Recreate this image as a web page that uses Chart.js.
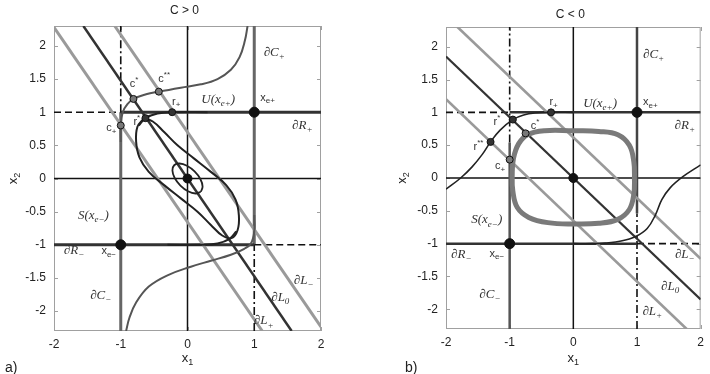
<!DOCTYPE html>
<html>
<head>
<meta charset="utf-8">
<script src="https://cdn.jsdelivr.net/npm/chart.js@4"></script>
<style>
  html, body { margin: 0; padding: 0; background: #fff; }
  #wrap { position: relative; width: 710px; height: 374px; overflow: hidden; }
  #wrap canvas { position: absolute; top: 0; }
</style>
</head>
<body>
<div id="wrap">
  <canvas id="chartA" width="355" height="374" style="left:0"></canvas>
  <canvas id="chartB" width="355" height="374" style="left:355px"></canvas>
</div>
<script>
const xTicks = [-2, -1, 0, 1, 2];
const yTicks = [-2, -1.5, -1, -0.5, 0, 0.5, 1, 1.5, 2];

// coordinate axes and saturation boundaries (same in both panels)
const axisH = [[-2, 0], [2, 0]];
const axisV = [[0, -2.3], [0, 2.3]];
const rPlus = [[-1, 1], [2, 1]];
const rPlusDash = [[-2, 1], [-1, 1]];
const rMinus = [[-2, -1], [1, -1]];
const rMinusDash = [[1, -1], [2, -1]];
const eqPts = [[1, 1], [-1, -1]];
const originPt = [[0, 0]];

// panel a) C > 0
const aCPlus = [[1, -1], [1, 2.3]];
const aCPlusDash = [[1, -2.3], [1, -1]];
const aCMinus = [[-1, -2.3], [-1, 1]];
const aCMinusDash = [[-1, 1], [-1, 2.3]];
const aLPlus = [[-2, 2.28], [1.12, -2.3]];
const aL0 = [[-1.56, 2.3], [1.56, -2.3]];
const aLMinus = [[-1.09, 2.3], [2, -2.24]];
const aCurveUp = [[-1, 0.55], [-1, 0.8], [-0.97, 1.0], [-0.9, 1.12], [-0.81, 1.2], [-0.62, 1.27], [-0.43, 1.31], [-0.1, 1.37], [0.2, 1.42], [0.45, 1.5], [0.65, 1.64], [0.78, 1.83], [0.86, 2.08], [0.9, 2.3]];
const aCurveDown = [[1, -0.55], [1, -0.8], [0.95, -0.98], [0.85, -1.06], [0.65, -1.15], [0.35, -1.24], [0.05, -1.33], [-0.3, -1.46], [-0.58, -1.63], [-0.77, -1.87], [-0.87, -2.1], [-0.92, -2.3]];
const aTailUp = [[0.3, 1.0], [-0.23, 1.0], [-0.45, 0.98], [-0.63, 0.91], [-0.73, 0.8]];
const aTailDown = [[-0.3, -1.0], [0.23, -1.0], [0.45, -0.98], [0.63, -0.91], [0.73, -0.8]];
const aLoop = [[-0.66, 0.9], [-0.75, 0.78], [-0.77, 0.56], [-0.72, 0.32], [-0.58, 0.1], [-0.35, -0.1], [-0.1, -0.3], [0.15, -0.5], [0.35, -0.7], [0.52, -0.86], [0.66, -0.9], [0.75, -0.78], [0.77, -0.56], [0.72, -0.32], [0.58, -0.1], [0.35, 0.1], [0.1, 0.3], [-0.15, 0.5], [-0.35, 0.7], [-0.52, 0.86], [-0.66, 0.9]];
const aInner = [[0.2, -0.2], [0.226, -0.12], [0.192, -0.008], [0.106, 0.106], [-0.008, 0.192], [-0.12, 0.226], [-0.2, 0.2], [-0.226, 0.12], [-0.192, 0.008], [-0.106, -0.106], [0.008, -0.192], [0.12, -0.226], [0.2, -0.2]];
const aGreyPts = [[-1, 0.8], [-0.81, 1.2], [-0.43, 1.31]];
const aDarkPts = [[-0.63, 0.91], [-0.23, 1.0]];

// panel b) C < 0
const bCPlus = [[1, -0.54], [1, 2.3]];
const bCPlusDash = [[1, -2.3], [1, -0.54]];
const bCMinus = [[-1, -2.3], [-1, 0.54]];
const bCMinusDash = [[-1, 0.54], [-1, 2.3]];
const bLPlus = [[-2, 1.2], [1.78, -2.3]];
const bL0 = [[-2, 1.85], [2, -1.85]];
const bLMinus = [[-1.82, 2.3], [2, -1.23]];
const bLoop = [[0, 0.72], [0.4, 0.71], [0.7, 0.66], [0.88, 0.5], [0.95, 0.25], [0.96, 0], [0.95, -0.25], [0.88, -0.48], [0.7, -0.63], [0.4, -0.69], [0, -0.7], [-0.4, -0.68], [-0.7, -0.6], [-0.88, -0.45], [-0.95, -0.2], [-0.96, 0.05], [-0.94, 0.3], [-0.86, 0.52], [-0.72, 0.66], [-0.45, 0.72], [0, 0.72]];
const bCurveLeft = [[-2, -0.17], [-1.77, 0], [-1.59, 0.17], [-1.43, 0.36], [-1.3, 0.55], [-1.15, 0.73], [-0.95, 0.89], [-0.78, 0.96], [-0.6, 0.99], [-0.35, 1.0], [0, 1.0]];
const bCurveRight = [[2, 0.2], [1.72, 0.02], [1.52, -0.15], [1.39, -0.33], [1.29, -0.56], [1.16, -0.77], [0.98, -0.89], [0.75, -0.96], [0.5, -0.99], [0.3, -1.0], [0, -1.0]];
const bGreyPts = [[-0.75, 0.68], [-1, 0.28]];
const bDarkPts = [[-0.35, 1.0], [-0.95, 0.89], [-1.3, 0.55]];

const aLabels = [
  { s: '∂C_+', x: 1.3, y: 1.9, f: 'serif' },
  { s: 'U(x_{e+})', x: 0.46, y: 1.19, f: 'serif' },
  { s: 'x_{e+}', x: 1.2, y: 1.22, f: 'sans' },
  { s: '∂R_+', x: 1.72, y: 0.8, f: 'serif' },
  { s: 'c^*', x: -0.8, y: 1.43, f: 'sans' },
  { s: 'c^{**}', x: -0.35, y: 1.5, f: 'sans' },
  { s: 'r_+', x: -0.17, y: 1.16, f: 'sans' },
  { s: 'r^*', x: -0.76, y: 0.85, f: 'sans' },
  { s: 'c_+', x: -1.14, y: 0.76, f: 'sans' },
  { s: 'S(x_{e−})', x: -1.41, y: -0.56, f: 'serif' },
  { s: '∂R_−', x: -1.7, y: -1.08, f: 'serif' },
  { s: 'x_{e−}', x: -1.18, y: -1.1, f: 'sans' },
  { s: '∂C_−', x: -1.3, y: -1.77, f: 'serif' },
  { s: '∂L_−', x: 1.74, y: -1.54, f: 'serif' },
  { s: '∂L_0', x: 1.39, y: -1.8, f: 'serif' },
  { s: '∂L_+', x: 1.14, y: -2.15, f: 'serif' },
];
const bLabels = [
  { s: '∂C_+', x: 1.26, y: 1.88, f: 'serif' },
  { s: 'U(x_{e+})', x: 0.42, y: 1.14, f: 'serif' },
  { s: 'x_{e+}', x: 1.21, y: 1.16, f: 'sans' },
  { s: '∂R_+', x: 1.75, y: 0.8, f: 'serif' },
  { s: 'r_+', x: -0.31, y: 1.16, f: 'sans' },
  { s: 'r^*', x: -1.2, y: 0.85, f: 'sans' },
  { s: 'c^*', x: -0.6, y: 0.8, f: 'sans' },
  { s: 'r^{**}', x: -1.49, y: 0.48, f: 'sans' },
  { s: 'c_+', x: -1.15, y: 0.18, f: 'sans' },
  { s: 'S(x_{e−})', x: -1.36, y: -0.64, f: 'serif' },
  { s: '∂R_−', x: -1.76, y: -1.17, f: 'serif' },
  { s: 'x_{e−}', x: -1.2, y: -1.15, f: 'sans' },
  { s: '∂C_−', x: -1.31, y: -1.78, f: 'serif' },
  { s: '∂L_−', x: 1.75, y: -1.17, f: 'serif' },
  { s: '∂L_0', x: 1.52, y: -1.65, f: 'serif' },
  { s: '∂L_+', x: 1.24, y: -2.03, f: 'serif' },
];

const FONTS = {
  serif: { style: 'italic', name: "'Liberation Serif', 'DejaVu Serif', serif", size: 13 },
  sans: { style: 'normal', name: "'Liberation Sans', Arial, sans-serif", size: 11 },
};

function line(points, color, width, dash) {
  return {
    data: points.map(([x, y]) => ({ x, y })),
    showLine: true,
    borderColor: color,
    borderWidth: width,
    borderDash: dash || [],
    pointRadius: 0,
    tension: points.length > 2 ? 0.4 : 0,
    fill: false,
  };
}

function dots(points, fill, r) {
  return {
    data: points.map(([x, y]) => ({ x, y })),
    showLine: false,
    pointRadius: r,
    pointBackgroundColor: fill,
    pointBorderColor: '#111',
    pointBorderWidth: 1,
  };
}

// split "∂C_+" / "x_{e+}" / "c^{**}" into normal, sub and super runs
function tokens(s) {
  const out = [];
  for (let i = 0; i < s.length; i++) {
    const c = s[i];
    if (c === '_' || c === '^') {
      let t;
      if (s[i + 1] === '{') {
        const j = s.indexOf('}', i);
        t = s.slice(i + 2, j);
        i = j;
      } else {
        t = s[i + 1];
        i++;
      }
      out.push({ t, k: c });
    } else if (out.length && out[out.length - 1].k === 'n') {
      out[out.length - 1].t += c;
    } else {
      out.push({ t: c, k: 'n' });
    }
  }
  return out;
}

function drawMath(ctx, px, py, s, fam, size) {
  const toks = tokens(s);
  const big = `${fam.style} ${size}px ${fam.name}`;
  const small = `${fam.style} ${Math.round(size * 0.72)}px ${fam.name}`;
  let w = 0;
  toks.forEach((t) => {
    ctx.font = t.k === 'n' ? big : small;
    t.w = ctx.measureText(t.t).width;
    w += t.w;
  });
  let x = px - w / 2;
  ctx.textAlign = 'left';
  ctx.textBaseline = 'middle';
  toks.forEach((t) => {
    ctx.font = t.k === 'n' ? big : small;
    const dy = t.k === '_' ? size * 0.32 : t.k === '^' ? -size * 0.38 : 0;
    ctx.fillText(t.t, x, py + dy);
    x += t.w;
  });
}

const decor = {
  id: 'decor',
  beforeDatasetsDraw(chart) {
    const { ctx, chartArea: a, scales: { x, y } } = chart;
    ctx.save();
    ctx.strokeStyle = '#a0a0a0';
    ctx.lineWidth = 1;
    ctx.strokeRect(a.left + 0.5, a.top + 0.5, a.right - a.left - 1, a.bottom - a.top - 1);
    ctx.beginPath();
    x.ticks.forEach((t) => {
      const px = Math.round(x.getPixelForValue(t.value)) + 0.5;
      ctx.moveTo(px, a.top); ctx.lineTo(px, a.top + 4);
      ctx.moveTo(px, a.bottom); ctx.lineTo(px, a.bottom - 4);
    });
    y.ticks.forEach((t) => {
      const py = Math.round(y.getPixelForValue(t.value)) + 0.5;
      ctx.moveTo(a.left, py); ctx.lineTo(a.left + 4, py);
      ctx.moveTo(a.right, py); ctx.lineTo(a.right - 4, py);
    });
    ctx.stroke();
    ctx.restore();
  },
  afterDraw(chart, args, opts) {
    const { ctx, chartArea: a, scales: { x, y } } = chart;
    ctx.save();
    ctx.fillStyle = '#333';
    opts.labels.forEach((l) => {
      const fam = FONTS[l.f];
      drawMath(ctx, x.getPixelForValue(l.x), y.getPixelForValue(l.y), l.s, fam, fam.size);
    });
    const cx = (a.left + a.right) / 2;
    ctx.fillStyle = '#222';
    ctx.font = "12px 'Liberation Sans', Arial, sans-serif";
    ctx.textAlign = 'center';
    ctx.textBaseline = 'middle';
    ctx.fillText(opts.title, cx - 3, opts.titleY);
    const axisFont = { style: 'normal', name: "'Liberation Sans', Arial, sans-serif" };
    drawMath(ctx, cx, 358, 'x_1', axisFont, 13);
    ctx.save();
    ctx.translate(opts.yTitleX, (a.top + a.bottom) / 2);
    ctx.rotate(-Math.PI / 2);
    drawMath(ctx, 0, 0, 'x_2', axisFont, 13);
    ctx.restore();
    ctx.font = "14px 'Liberation Sans', Arial, sans-serif";
    ctx.textAlign = 'left';
    ctx.fillText(opts.letter, opts.letterX, 368);
    ctx.restore();
  },
};

function makeChart(id, datasets, opts) {
  const tickFont = { family: "'Liberation Sans', Arial, sans-serif", size: 12 };
  return new Chart(document.getElementById(id), {
    type: 'scatter',
    data: { datasets },
    options: {
      responsive: false,
      animation: false,
      events: [],
      layout: { padding: { top: opts.top, right: opts.right, left: 0, bottom: 0 } },
      scales: {
        x: {
          type: 'linear', min: -2, max: 2,
          afterBuildTicks: (s) => { s.ticks = xTicks.map((v) => ({ value: v })); },
          afterFit: (s) => { s.height = 374 - opts.bottom; },
          grid: { display: false, drawTicks: false },
          border: { display: false },
          ticks: { padding: 6, color: '#222', font: tickFont, callback: (v) => String(v) },
        },
        y: {
          type: 'linear', min: -2.3, max: 2.3,
          afterBuildTicks: (s) => { s.ticks = yTicks.map((v) => ({ value: v })); },
          afterFit: (s) => { s.width = opts.left; },
          grid: { display: false, drawTicks: false },
          border: { display: false },
          ticks: { padding: 8, color: '#222', font: tickFont, callback: (v) => String(v) },
        },
      },
      plugins: {
        legend: { display: false },
        tooltip: { enabled: false },
        decor: opts.decor,
      },
    },
    plugins: [decor],
  });
}

const dashed = [7, 4];
const dashDot = [8, 3, 2, 3];

// datasets listed top-most first
makeChart('chartA', [
  dots(eqPts, '#111', 5),
  dots(originPt, '#111', 4.5),
  dots(aDarkPts, '#333', 3.5),
  dots(aGreyPts, '#777', 3.5),
  line(aInner, '#222', 1.8),
  line(aTailUp, '#222', 2),
  line(aTailDown, '#222', 2),
  line(aLoop, '#222', 2),
  line(aCurveUp, '#555', 2),
  line(aCurveDown, '#555', 2),
  line(aL0, '#333', 2.5),
  line(aLPlus, '#9a9a9a', 3),
  line(aLMinus, '#9a9a9a', 3),
  line(rPlus, '#333', 3),
  line(rMinus, '#333', 3),
  line(rPlusDash, '#111', 1.6, dashed),
  line(rMinusDash, '#111', 1.6, dashed),
  line(aCPlus, '#666', 3),
  line(aCMinus, '#666', 3),
  line(aCPlusDash, '#111', 1.6, dashDot),
  line(aCMinusDash, '#111', 1.6, dashDot),
  line(axisH, '#111', 1.5),
  line(axisV, '#111', 1.5),
], {
  top: 26, right: 34, left: 54, bottom: 331,
  decor: { labels: aLabels, title: 'C > 0', titleY: 11, yTitleX: 13, letter: 'a)', letterX: 5 },
});

makeChart('chartB', [
  dots(eqPts, '#111', 5),
  dots(originPt, '#111', 4.5),
  dots(bDarkPts, '#333', 3.5),
  dots(bGreyPts, '#777', 3.5),
  line(bCurveLeft, '#222', 1.6),
  line(bCurveRight, '#222', 1.6),
  line(bLoop, '#7a7a7a', 5),
  line(bL0, '#333', 2.2),
  line(bLPlus, '#9a9a9a', 2.6),
  line(bLMinus, '#9a9a9a', 2.6),
  line(rPlus, '#333', 2.5),
  line(rMinus, '#333', 2.5),
  line(rPlusDash, '#111', 1.6, dashed),
  line(rMinusDash, '#111', 1.6, dashed),
  line(bCPlus, '#444', 2.5),
  line(bCMinus, '#555', 2.5),
  line(bCPlusDash, '#111', 1.6, dashDot),
  line(bCMinusDash, '#111', 1.6, dashDot),
  line(axisH, '#111', 1.5),
  line(axisV, '#111', 1.5),
], {
  top: 27, right: 2, left: 91, bottom: 329,
  decor: { labels: bLabels, title: 'C < 0', titleY: 15, yTitleX: 47, letter: 'b)', letterX: 50 },
});
</script>
</body>
</html>
